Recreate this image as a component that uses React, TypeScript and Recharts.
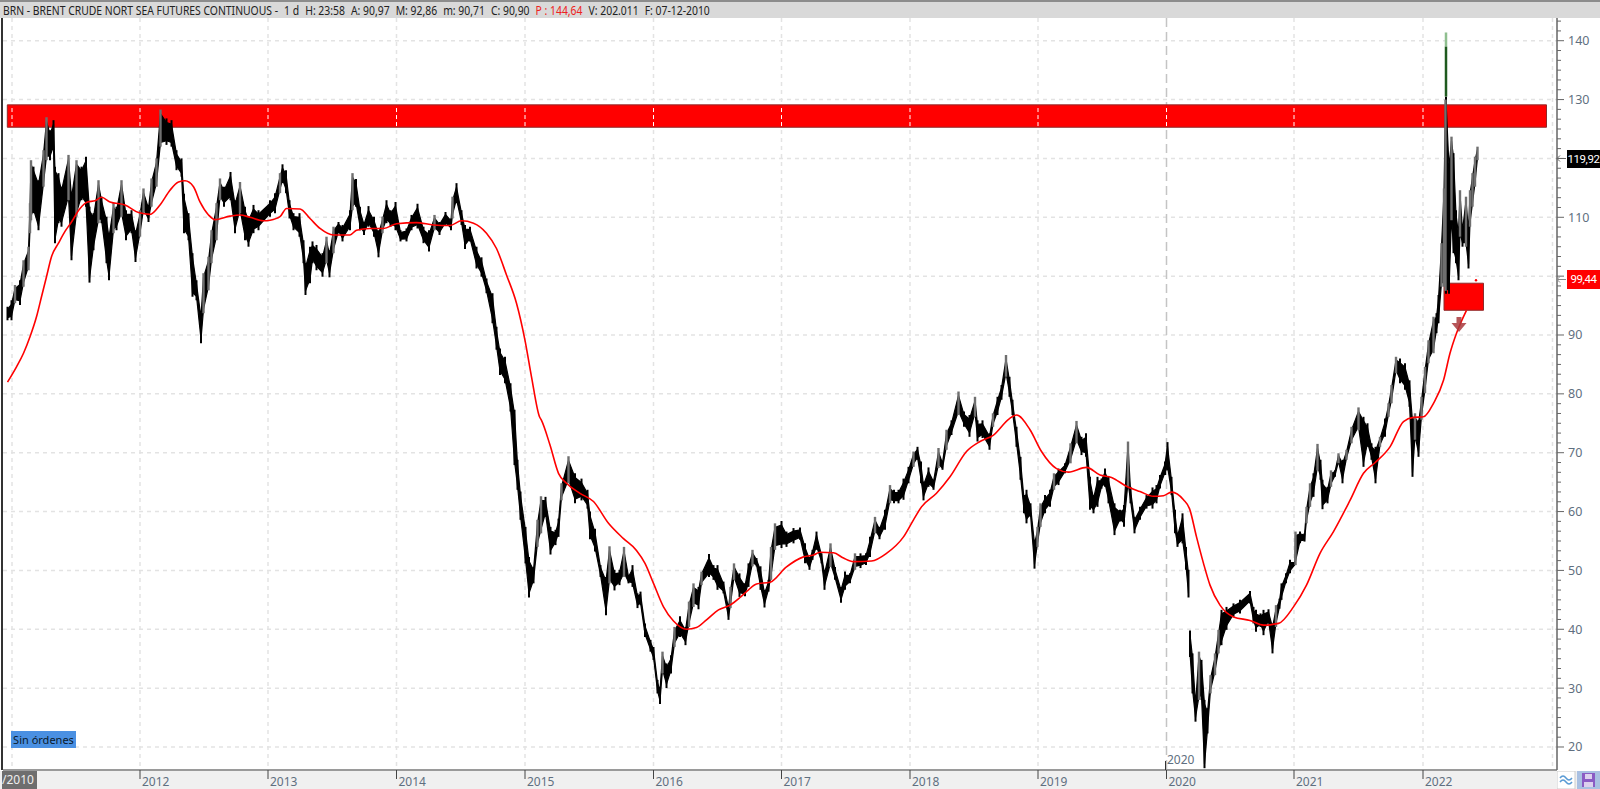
import React from "react";
import { ComposedChart, Area, Line, ErrorBar, XAxis, YAxis, CartesianGrid, ReferenceArea, ReferenceLine, ReferenceDot } from "recharts";

// [session, high, low]; one session is about half a pixel wide in the source terminal
type Row = [number, number, number];
const candlesA: Row[] = [[-9,94.8,92.5],[-1,95.9,92.5],[6,98.5,95.4],[16,99.3,95.1],[23,102.7,98.2],[33,105,101],[36,112.4,107.3],[38,119.7,109.5],[43,118.6,110.7],[53,116.3,107.8],[63,121.4,115.2],[69,127,119.7],[76,124.8,119.7],[83,126.5,121.4],[86,118.6,105.6],[93,117.5,109],[99,115.2,108.4],[113,120.6,112.9],[119,114.1,102.7],[129,119.7,110.1],[139,118.6,112.9],[148,120.3,111.8],[155,111.8,98.9],[163,110.7,104.4],[173,116.3,109],[179,113.5,109],[189,110.1,102.2],[194,107.3,99.3],[203,112.4,107.3],[209,111.8,107.8],[219,116.3,110.1],[228,111.2,106.1],[239,111.2,107.3],[247,107.8,102.4],[256,111.2,106.7],[263,114.9,110.7],[273,112.1,109.2],[279,116.6,111.8],[289,120,115.2],[297,128.3,122],[309,126.8,122.3],[319,126.5,122],[329,121.4,118],[339,120,116.9],[344,114,107.3],[353,110.7,106.1],[361,103.9,96.5],[369,99.3,95.9],[378,93.7,88.6],[383,100.5,93.7],[393,103.3,97.6],[399,107.8,102.2],[409,112.4,106.1],[416,116.6,112.9],[424,115.2,111.8],[437,117.7,112.9],[446,112.9,107.3],[456,116,110.7],[466,111.8,106.1],[473,110.1,105],[483,112.1,107.3],[493,111.2,107.8]];
const candlesB: Row[] = [[516,112.9,110.1],[526,114.1,110.7],[536,117.5,114.1],[541,119,115.8],[548,118,114.1],[555,112.9,109.8],[563,110.7,107.8],[575,110.7,106.7],[583,106.1,102.2],[587,102.2,96.8],[596,105,98.8],[601,105.9,102.2],[609,105.3,101],[621,103.9,99.9],[629,106.7,102.2],[635,104.4,99.8],[643,108.4,103.9],[653,109.2,107.3],[661,108.7,105.9],[676,111.2,107.8],[681,117.5,111.2],[688,116.5,111.8],[696,111.8,107.8],[704,109.2,107],[713,111.9,108.4],[724,110.1,106.7],[733,107.8,103.2],[741,110.1,107.3],[749,112.9,109],[757,111.2,108.4],[767,112.6,107.8],[777,107.8,105.9],[789,108.1,105.9],[799,110.4,107.8],[811,112.3,108.1],[823,108.4,105.6],[834,107.8,104.2],[845,110.4,107.8],[855,109.2,107],[867,110.9,108.7],[878,109.8,107.8],[881,113.5,109.8],[889,115.8,112.4],[899,111.2,108.7],[906,108.7,104.6],[916,108.4,105.9],[929,105,101.3],[939,103.2,99.9],[949,99.6,97.1],[961,97.1,92],[969,91.4,87.5],[976,87.7,83.2],[986,86.3,81.8],[997,81.8,77]];
const candlesC: Row[] = [[1005,77.3,67.9],[1011,68.8,63.7],[1017,63.4,58.6],[1027,57.4,51.2],[1034,52.3,45.4],[1043,50.6,47.8],[1051,58.6,54],[1058,62.6,56.3],[1067,62.5,59.1],[1077,57.4,52.7],[1087,56.9,54.3],[1093,58.8,55.7],[1099,64.8,61.9],[1113,69.4,64.8],[1126,66.5,61.4],[1139,65.6,61.9],[1151,63.7,60.5],[1156,60,55.3],[1166,57.1,53.2],[1177,50.9,48.9],[1188,48.9,42.4],[1195,54.1,47.8],[1205,50.1,46.6],[1215,50.1,47.5],[1224,54,48.9],[1233,49.2,47.8],[1241,50.9,47.2],[1251,46.1,43.6],[1257,46.4,44.1],[1266,41,38.7],[1277,38.2,36.2],[1283,37,34.8],[1291,31.4,29.1],[1296,30.2,27.3],[1301,36.2,32.5],[1309,34.2,30],[1318,35.6,32.5],[1325,40.4,37],[1336,42.2,38.7],[1347,40.4,37.3],[1354,44.7,40.4],[1363,47.8,43.8],[1373,47.2,43.4],[1379,49.8,47.5],[1394,52.8,48.9],[1403,50.9,48.4],[1411,50.9,46.7],[1423,48.1,46.1],[1433,44.1,41.6],[1437,47.2,43.6],[1444,51.2,48.4]];
const candlesD: Row[] = [[1455,49.5,45.5],[1466,47.8,45.6],[1473,51.2,47.2],[1481,53.5,50.7],[1489,52.1,50.7],[1497,50.7,46.7],[1505,46.7,43.7],[1513,48.4,46.4],[1518,54,48.4],[1526,58,53.5],[1539,58.4,53.8],[1549,56.6,54],[1563,57.2,54.6],[1576,57.3,55.2],[1586,54.6,51.2],[1595,52.3,50.1],[1601,53.5,51.8],[1609,56.6,53.5],[1619,52.9,51.2],[1625,50.1,46.7],[1637,54.6,50.6],[1646,50.6,48.4],[1658,47.2,44.5],[1666,49.8,46.7],[1676,49.5,47.8],[1686,52.9,50.1],[1697,52.9,50.4],[1708,52.9,50.9],[1716,55.7,52.3],[1726,59.1,56.3],[1735,57.4,55.3],[1746,60.3,56.9],[1756,64.5,61.4],[1764,63.7,61.4],[1773,63.7,61.4],[1783,65.6,62],[1793,67.6,64.8],[1803,70.2,67.6],[1811,71,68.8],[1818,68.5,64.8],[1823,65.1,61.9],[1833,67.5,64.2],[1843,65.4,63.7],[1853,70.8,67.4],[1861,68.5,67.1],[1869,73.9,70.5],[1879,75.5,73],[1893,80.4,76.4],[1904,77,74.4],[1915,76.4,72.7],[1926,79.5,76.1],[1931,75.5,71.9],[1941,75.5,72.5],[1955,73.3,70.5],[1962,76.7,74.4],[1971,79.5,76.4],[1979,81.5,79],[1988,86.6,82.9],[1995,82.9,79.5]];
const candlesE: Row[] = [[2001,79,76.4],[2009,74.4,71],[2017,69.3,65.4],[2024,62.8,59.7],[2029,63.7,58],[2037,61.4,59.1],[2045,55.2,50.3],[2051,57.4,54],[2057,61.4,57.4],[2066,62.8,59.7],[2076,63.7,60.8],[2084,66.5,63.7],[2093,67.3,64.5],[2106,68.2,66.5],[2117,71.6,68.2],[2129,75.4,71.6],[2139,72.7,69.6],[2148,73.3,69.3],[2156,65.9,60.3],[2163,62.8,59.7],[2171,65.9,60.8],[2179,65.6,63.9],[2186,67.3,64.2],[2193,65.9,61.4],[2205,61.4,56],[2216,60.3,58.3],[2224,61.1,57.4],[2232,71.9,64.2],[2237,64.2,61.4],[2245,59.1,56.3],[2256,60.8,58.6],[2269,62.8,60.5],[2281,64.1,60.5],[2289,64.5,61.4],[2296,66.2,63.9],[2306,68.5,66.2],[2311,71.8,67],[2319,65.9,62.8],[2326,60.3,56.3],[2331,56.3,54],[2341,59.7,54.6],[2348,54,50.1],[2353,50.1,45.4]];
const candlesF: Row[] = [[2356,39.8,35.3],[2361,35.9,29.1],[2367,28,24.3],[2374,36.2,28],[2379,34.8,28],[2385,28,16.4],[2391,26.6,22.3],[2397,32.2,29.1],[2406,35.9,32.2],[2413,39.9,35.9],[2419,43.3,37.3],[2429,43.8,39.9],[2443,44.4,42.1],[2456,45,42.7],[2476,46.5,44.4],[2483,43.8,41],[2488,43.3,39.6],[2497,42.7,40.4],[2503,43.3,39],[2513,43.4,41],[2521,41,35.9],[2528,44.1,40.4],[2535,45.2,43.5],[2539,47.8,45],[2548,49.5,47.8],[2556,51.8,49.5],[2566,51.5,50.9],[2567,56.6,50.9],[2576,56.6,54.6],[2585,56.3,54.9],[2589,60.8,58],[2596,64.8,60.8],[2603,66.5,62.5],[2611,71.5,67],[2617,68.8,65.4],[2621,65.4,60.4],[2631,64.2,61.4],[2638,67,64.2],[2646,67,65.9],[2653,69.9,68.2],[2661,68.8,64.8],[2669,70.5,68.8],[2679,74.4,71.6],[2693,77.7,73.8],[2703,76.1,67.6],[2711,75,71],[2719,71.6,68.8],[2727,71,64.8],[2736,72.7,71],[2746,75.8,72.7],[2753,78.4,76.1],[2759,81.5,78.4],[2768,86.3,83.5],[2776,86,81.8],[2786,85.2,80.7],[2795,82.3,77.8],[2801,76.1,65.9],[2806,76.7,72.2],[2813,75.6,69.3],[2819,79.5,75.6],[2826,84.6,80.1],[2833,89.1,85.2],[2843,93.1,86.9],[2849,93.7,90.3],[2853,96.8,92],[2859,105.6,98.2],[2864,114.9,98.2],[2867,130,97.5],[2868,130.5,97],[2874,119.2,97],[2879,123.7,109.5],[2883,120.9,103.9],[2888,111.2,102.2],[2893,107.8,99.3],[2896,114.6,106.7],[2901,108.4,105],[2908,113.5,105],[2913,108.4,101.3],[2916,114.6,108.4],[2921,117.5,111.8],[2926,120.3,115.2],[2931,122,119.7]];

// [session, average]
type Pt = [number, number];
const maA: Pt[] = [[-9,82],[9,84.6],[23,86.9],[36,89.7],[49,93.1],[59,96.5],[69,99.9],[79,103.3],[93,105.6],[106,107.6],[119,109.2],[136,111.5],[151,112.6],[166,112.8],[179,113.4],[196,112.6],[226,112.1],[253,110.8],[276,110.5],[296,112.1],[316,114.6],[333,116],[346,116.2],[363,115.2],[376,112.6],[393,110.4],[406,109.6],[436,110.2],[456,110.4],[476,110],[503,109.4]];
const maB: Pt[] = [[516,109.5],[536,110.1],[549,111.5],[576,111.4],[596,109.8],[616,108.1],[643,107],[676,107],[689,107.8],[716,108.1],[743,108.1],[769,108.9],[809,109.1],[843,108.7],[876,108.6],[899,109.4],[923,109],[949,107.3],[969,104.7],[989,100.2],[1009,95.4],[1026,89.1],[1039,82.9],[1055,76.1]];
const maC: Pt[] = [[1059,75.5],[1076,71.3],[1093,66.5],[1109,64.8],[1136,63.1],[1163,61.7],[1193,58],[1223,55.4],[1249,53.4],[1266,51.2],[1283,47.8],[1303,43.8],[1323,41.4],[1349,40],[1369,40.3],[1389,41.6],[1413,43.3],[1436,44.1],[1456,45.4],[1473,46.7],[1489,47.7],[1516,48],[1549,50.6],[1583,52.3],[1603,52.6],[1616,53.1],[1643,53],[1663,52.1],[1683,51.5],[1719,51.6],[1749,52.9],[1783,55.7],[1803,58.6],[1819,60.8],[1849,63.1],[1876,65.9],[1909,70.2],[1936,71.9],[1963,73],[1995,75.8]];
const maD: Pt[] = [[2009,76.4],[2036,73.9],[2059,70.2],[2089,67.3],[2113,66.7],[2149,67.5],[2176,66.2],[2199,65.8],[2229,64.3],[2256,63.4],[2283,62.6],[2303,62.7],[2319,63.3],[2343,62],[2355,60.5],[2369,55.7],[2383,51.2],[2396,47.5],[2416,44.1],[2443,42.1],[2476,41.5],[2503,40.7],[2533,41],[2563,43.8],[2589,47.5],[2616,52.9],[2643,56.6],[2676,61.9],[2703,66.5],[2726,68.3],[2756,71],[2783,75.3],[2803,76],[2823,76.1],[2843,78.4],[2863,82.3],[2876,86.9],[2889,90.3],[2909,94.2]];

const yearLabels = ["2012", "2013", "2014", "2015", "2016", "2017", "2018", "2019", "2020", "2021", "2022"];
const yearSessions = [256, 512, 769, 1026, 1283, 1539, 1796, 2052, 2309, 2564, 2822];
const priceLevels = [20, 30, 40, 50, 60, 70, 80, 90, 100, 110, 120, 130, 140];
const coveredLevels = [100, 120];
const headerParts = ["BRN - BRENT CRUDE NORT SEA FUTURES CONTINUOUS -", "1 d", "H: 23:58", "A: 90,97", "M: 92,86", "m: 90,71", "C: 90,90", "P : 144,64", "V: 202.011", "F: 07-12-2010"];
const spikeLevels = [141.4, 139, 130.5];
const startSession = 0;
const endGridSession = 3081;

const toRows = (rows: Row[]) =>
  rows.map(([s, h, l], i) => {
    const pad = Math.min((h - l) * 0.2, 0.7);
    const mid = (h + l) / 2;
    const prevMid = i > 0 ? (rows[i - 1][1] + rows[i - 1][2]) / 2 : mid;
    return { s, mid, err: [mid - l, h - mid], core: [l + pad, h - pad], rising: mid - prevMid > 2.5 };
  });
const rowsBefore = toRows([...candlesA, ...candlesB, ...candlesC, ...candlesD, ...candlesE]);
const rowsAfter = toRows(candlesF);
const bandData = [...rowsBefore, { s: 2354.5, mid: null, err: null, core: null, rising: false }, ...rowsAfter];
const allRows = [...rowsBefore, ...rowsAfter];
const fallingRows = allRows.filter((r) => !r.rising);
const risingRows = allRows.filter((r) => r.rising);
const maData = [...maA, ...maB, ...maC, ...maD].map(([s, v]) => ({ s, v }));

const minorTicks: number[] = [];
for (let k = 0; k <= 74; k++) minorTicks.push(20 + k * (10 / 6));

const FONT = "'Noto Sans', 'Open Sans', sans-serif";
const LABEL = "#5f6f80";
const GRID = "#e3e3e3";

const YTick = (p: any) => {
  const v = p.payload.value;
  const major = Math.abs(v / 10 - Math.round(v / 10)) < 0.001;
  const show = major && !coveredLevels.includes(Math.round(v));
  return (
    <g>
      <line x1={1557} x2={major ? 1564 : 1561} y1={p.y} y2={p.y} stroke="#666" strokeWidth={1} />
      {show && (
        <text x={1568} y={p.y + 4.5} fontSize={12.5} fill={LABEL} fontFamily={FONT}>
          {Math.round(v)}
        </text>
      )}
    </g>
  );
};

const XTick = (p: any) => {
  const i = yearSessions.indexOf(p.payload.value);
  return (
    <g>
      <line x1={p.x} x2={p.x} y1={770} y2={779} stroke="#444" strokeWidth={1} />
      <text x={p.x + 2} y={786} fontSize={12} fill={LABEL} fontFamily={FONT}>
        {yearLabels[i]}
      </text>
    </g>
  );
};

const ArrowDown = (p: any) => (
  <path d={`M${p.cx - 2.5} ${p.cy - 8}h5v6h5l-7.5 9l-7.5 -9h5z`} fill="#a8383c" fillOpacity={0.85} />
);

const box = (s: React.CSSProperties): React.CSSProperties => ({ position: "absolute", fontFamily: FONT, ...s });
const priceBox: React.CSSProperties = {
  left: 1567, width: 33, color: "#fff", fontSize: 11.5, letterSpacing: -0.4, overflow: "hidden", whiteSpace: "nowrap", fontFamily: "Roboto, sans-serif", textAlign: "center",
};

export default function App() {
  return (
    <div style={{ position: "absolute", left: 0, top: 0, width: 1600, height: 789, background: "#fff", overflow: "hidden" }}>
      <div style={box({ left: 0, top: 771, width: 1600, height: 18, background: "#f0f0f0" })} />
      <div style={box({ left: 0, top: 0, width: 1600, height: 2, background: "#8c8c8c" })} />
      <div style={box({ left: 0, top: 2, width: 1600, height: 16, background: "#d9d9d9" })} />
      <div
        style={box({
          left: 3, top: 3, height: 16, lineHeight: "16px", fontSize: 12, color: "#222", whiteSpace: "pre", display: "flex", gap: 7,
          transform: "scaleX(0.865)", transformOrigin: "left center",
        })}
      >
        {headerParts.map((t) => (
          <span key={t} style={{ color: t.startsWith("P") ? "#ee2222" : "#222" }}>{t}</span>
        ))}
      </div>
      <div style={box({ left: 1, top: 18, width: 2, height: 752, background: "#333" })} />
      <div style={{ position: "absolute", left: 0, top: 0 }}>
        <ComposedChart width={1600} height={789} margin={{ top: 18, left: 3, right: 0, bottom: 0 }}>
          <XAxis
            xAxisId="x"
            dataKey="s"
            type="number"
            domain={[-18, 3090]}
            allowDataOverflow
            ticks={yearSessions}
            interval={0}
            height={19}
            tick={<XTick />}
            tickLine={false}
            axisLine={{ stroke: "#9a9a9a", strokeWidth: 2 }}
          />
          <YAxis
            yAxisId="y"
            orientation="right"
            width={43}
            type="number"
            domain={[16.09, 143.86]}
            allowDataOverflow
            ticks={minorTicks}
            interval={0}
            tick={<YTick />}
            tickLine={false}
            axisLine={{ stroke: "#666", strokeWidth: 1.5 }}
          />
          <CartesianGrid
            xAxisId="x"
            yAxisId="y"
            stroke={GRID}
            strokeWidth={1.5}
            strokeDasharray="4 4"
            horizontalValues={priceLevels}
            verticalValues={[startSession, ...yearSessions.filter((s) => s !== 2309), endGridSession]}
          />
          <CartesianGrid
            xAxisId="x"
            yAxisId="y"
            stroke="#c4c4c4"
            strokeWidth={1.5}
            strokeDasharray="9 5"
            horizontal={false}
            verticalValues={[2309]}
          />
          <ReferenceArea xAxisId="x" yAxisId="y" x1={-9.4} x2={3069} y1={125.3} y2={129.1} fill="#ff0000" fillOpacity={1} stroke="#8f2a2a" strokeWidth={1} />
          {[startSession, ...yearSessions].map((s) => (
            <ReferenceLine
              key={"w" + s}
              xAxisId="x"
              yAxisId="y"
              segment={[{ x: s, y: 125.5 }, { x: s, y: 128.9 }]}
              stroke="#ffffff"
              strokeWidth={1}
              strokeDasharray="4 3"
            />
          ))}
          <ReferenceArea xAxisId="x" yAxisId="y" x1={2864} x2={2943} y1={94.2} y2={98.8} fill="#ff0000" fillOpacity={1} stroke="#8f2a2a" strokeWidth={1} />
          <Area
            xAxisId="x"
            yAxisId="y"
            data={bandData}
            dataKey="core"
            type="linear"
            stroke="#000"
            strokeWidth={1.2}
            fill="#000"
            fillOpacity={1}
            dot={false}
            activeDot={false}
            connectNulls={false}
            isAnimationActive={false}
          />
          <Line xAxisId="x" yAxisId="y" data={fallingRows} dataKey="mid" stroke="none" dot={false} activeDot={false} isAnimationActive={false}>
            <ErrorBar dataKey="err" width={0} strokeWidth={2} stroke="#000" direction="y" isAnimationActive={false} />
          </Line>
          <Line xAxisId="x" yAxisId="y" data={risingRows} dataKey="mid" stroke="none" dot={false} activeDot={false} isAnimationActive={false}>
            <ErrorBar dataKey="err" width={0} strokeWidth={2.4} stroke="#6f6f6f" direction="y" isAnimationActive={false} />
          </Line>
          <ReferenceLine xAxisId="x" yAxisId="y" segment={[{ x: 2868, y: spikeLevels[0] }, { x: 2868, y: spikeLevels[1] }]} stroke="#8fbf8f" strokeWidth={2.5} />
          <ReferenceLine xAxisId="x" yAxisId="y" segment={[{ x: 2868, y: spikeLevels[1] }, { x: 2868, y: spikeLevels[2] }]} stroke="#1f5a1f" strokeWidth={2.5} />
          <Line
            xAxisId="x"
            yAxisId="y"
            data={maData}
            dataKey="v"
            type="monotone"
            stroke="#ff0000"
            strokeWidth={1.6}
            dot={false}
            activeDot={false}
            isAnimationActive={false}
          />
          <ReferenceDot xAxisId="x" yAxisId="y" x={2928} y={99.3} r={1.2} fill="#ff0000" stroke="none" />
          <ReferenceDot xAxisId="x" yAxisId="y" x={2894} y={91.7} shape={<ArrowDown />} />
        </ComposedChart>
      </div>

      <div style={box({ left: 11, top: 731, width: 65, height: 17, lineHeight: "17px", background: "#4a90e2", fontSize: 11, color: "#0b1a2b", textAlign: "center" })}>
        Sin órdenes
      </div>
      <div style={box({ left: 2, top: 771, width: 35, height: 18, lineHeight: "18px", background: "#6e6e6e", fontSize: 12, color: "#eee" })}>
        /2010
      </div>
      <div style={box({ left: 1167, top: 752, fontSize: 12, lineHeight: "16px", color: LABEL })}>2020</div>
      <div style={box({ left: 1165, top: 761, width: 1, height: 9, background: "#333" })} />

      <div style={box({ ...priceBox, top: 150, height: 18, lineHeight: "18px", background: "#000" })}>119,92</div>
      <div style={box({ ...priceBox, top: 270, height: 19, lineHeight: "19px", background: "#ff0000" })}>99,44</div>
      <svg style={{ position: "absolute", left: 1555, top: 150, width: 12, height: 140 }}>
        <path d="M2 8.5h9M2 8.5l3 -3M2 8.5l3 3" stroke="#666" fill="none" />
        <path d="M2 129.5h9M2 129.5l3 -3M2 129.5l3 3" stroke="#888" fill="none" />
      </svg>
      <svg style={{ position: "absolute", left: 1557, top: 771, width: 43, height: 18 }}>
        <rect x={0} y={0} width={18} height={18} fill="#fff" stroke="#ccc" />
        <path d="M3 7q3 -4 6 0t6 0M3 11q3 -4 6 0t6 0" stroke="#5a9bd5" strokeWidth={1.5} fill="none" />
        <rect x={20} y={0} width={23} height={18} fill="#a9c0e2" />
        <rect x={25} y={2} width={13} height={14} fill="#8a5bc4" />
        <rect x={28} y={3} width={7} height={5} fill="#dcd0ee" />
        <rect x={27} y={11} width={9} height={5} fill="#dcd0ee" />
      </svg>
    </div>
  );
}
